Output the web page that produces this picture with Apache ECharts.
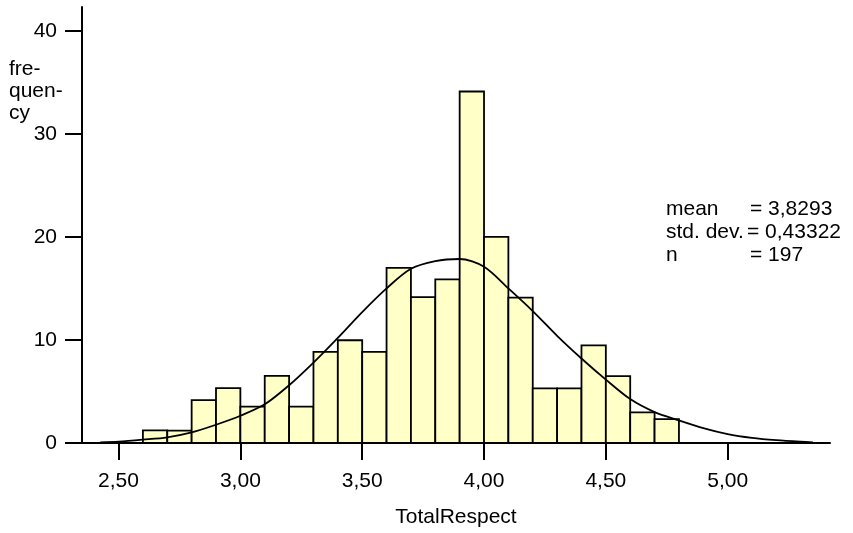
<!DOCTYPE html>
<html>
<head>
<meta charset="utf-8">
<script src="https://cdn.jsdelivr.net/npm/echarts@6/dist/echarts.min.js"></script>
<style>
  html, body { margin: 0; padding: 0; background: #fff; }
  #chart { width: 853px; height: 533px; }
</style>
</head>
<body>
<div id="chart"></div>
<script>
// Histogram of TotalRespect: bin start, bin width and frequency per bin
const binStarts = [2.6, 2.7, 2.8, 2.9, 3.0, 3.1, 3.2, 3.3, 3.4, 3.5, 3.6,
                   3.7, 3.8, 3.9, 4.0, 4.1, 4.2, 4.3, 4.4, 4.5, 4.6, 4.7];
const binWidth = 0.1;
const frequencies = [1.23, 1.2, 4.16, 5.32, 3.52, 6.52, 3.52, 8.84, 9.97, 8.84, 17.0,
                     14.16, 15.87, 34.1, 20.0, 14.1, 5.29, 5.29, 9.48, 6.48, 2.97, 2.32];

// Fitted normal curve, sampled along the axis
const curveX = [2.425, 2.5, 2.6, 2.7, 2.8, 2.9, 3.0, 3.1, 3.2, 3.3, 3.4, 3.5, 3.6, 3.7,
                3.8, 3.9, 4.0, 4.1, 4.2, 4.3, 4.4, 4.5, 4.6, 4.7, 4.8, 4.9, 5.0,
                5.1, 5.2, 5.3, 5.35];
const curveY = [0.07, 0.13, 0.32, 0.55, 1.03, 1.77, 2.64, 3.75, 5.6, 7.8, 10.2, 12.7, 15.0, 16.9,
                17.65, 17.85, 17.1, 15.0, 12.8, 10.4, 8.2, 6.15, 4.26, 3.0, 2.2, 1.45, 0.87,
                0.5, 0.27, 0.12, 0.07];

const xTicks = [2.5, 3.0, 3.5, 4.0, 4.5, 5.0];
const yTicks = [0, 10, 20, 30, 40];

const statNames = ['mean', 'std. dev.', 'n'];
const statValues = ['= 3,8293', '= 0,43322', '= 197'];

const FONT = 'Liberation Sans, Arial, sans-serif';
const FS = 21;

const chart = echarts.init(document.getElementById('chart'), null, { renderer: 'canvas' });

const histData = binStarts.map((x, i) => [x, frequencies[i]]);
const curveData = curveX.map((x, i) => [x, curveY[i]]);

const statGraphics = [];
const statTop = [210, 233, 256];
const valueLeft = [750, 747, 750];
statNames.forEach((name, i) => {
  statGraphics.push({
    type: 'text', left: 666, top: statTop[i] - 11,
    style: { text: name, font: FS + 'px ' + FONT, fill: '#000' }
  });
  statGraphics.push({
    type: 'text', left: valueLeft[i], top: statTop[i] - 11,
    style: { text: statValues[i], font: FS + 'px ' + FONT, fill: '#000' }
  });
});

chart.setOption({
  animation: false,
  backgroundColor: '#fff',
  grid: { left: 82, right: 23, top: 7, bottom: 89, containLabel: false },
  xAxis: {
    type: 'value',
    min: 2.35, max: 5.42,
    name: 'TotalRespect',
    nameLocation: 'middle',
    nameGap: 64,
    nameTextStyle: { color: '#000', fontFamily: FONT, fontSize: FS },
    axisLine: { show: true, onZero: false, lineStyle: { color: '#000', width: 2 } },
    axisTick: { show: true, length: 17, customValues: xTicks, lineStyle: { color: '#000', width: 2 } },
    axisLabel: {
      show: true, margin: 28, customValues: xTicks,
      color: '#000', fontFamily: FONT, fontSize: FS,
      formatter: v => v.toFixed(2).replace('.', ',')
    },
    splitLine: { show: false }
  },
  yAxis: {
    type: 'value',
    min: 0, max: 42.3,
    axisLine: { show: true, lineStyle: { color: '#000', width: 2 } },
    axisTick: { show: true, length: 17, customValues: yTicks, lineStyle: { color: '#000', width: 2 } },
    axisLabel: {
      show: true, margin: 25, customValues: yTicks,
      color: '#000', fontFamily: FONT, fontSize: FS
    },
    splitLine: { show: false }
  },
  graphic: [
    {
      type: 'text', left: 9, top: 58,
      style: {
        text: 'fre-\nquen-\ncy', font: FS + 'px ' + FONT, fill: '#000', lineHeight: 22
      }
    }
  ].concat(statGraphics),
  series: [
    {
      type: 'custom',
      data: histData,
      z: 2,
      renderItem: function (params, api) {
        const x0 = api.value(0);
        const h = api.value(1);
        const p0 = api.coord([x0, h]);
        const p1 = api.coord([x0 + binWidth, 0]);
        return {
          type: 'rect',
          shape: { x: p0[0], y: p0[1], width: p1[0] - p0[0], height: p1[1] - p0[1] },
          style: { fill: '#FFFFC8', stroke: '#000', lineWidth: 1.8 }
        };
      }
    },
    {
      type: 'line',
      data: curveData,
      smooth: 0.3,
      showSymbol: false,
      symbol: 'none',
      z: 3,
      lineStyle: { color: '#000', width: 1.8 }
    }
  ]
});
</script>
</body>
</html>
